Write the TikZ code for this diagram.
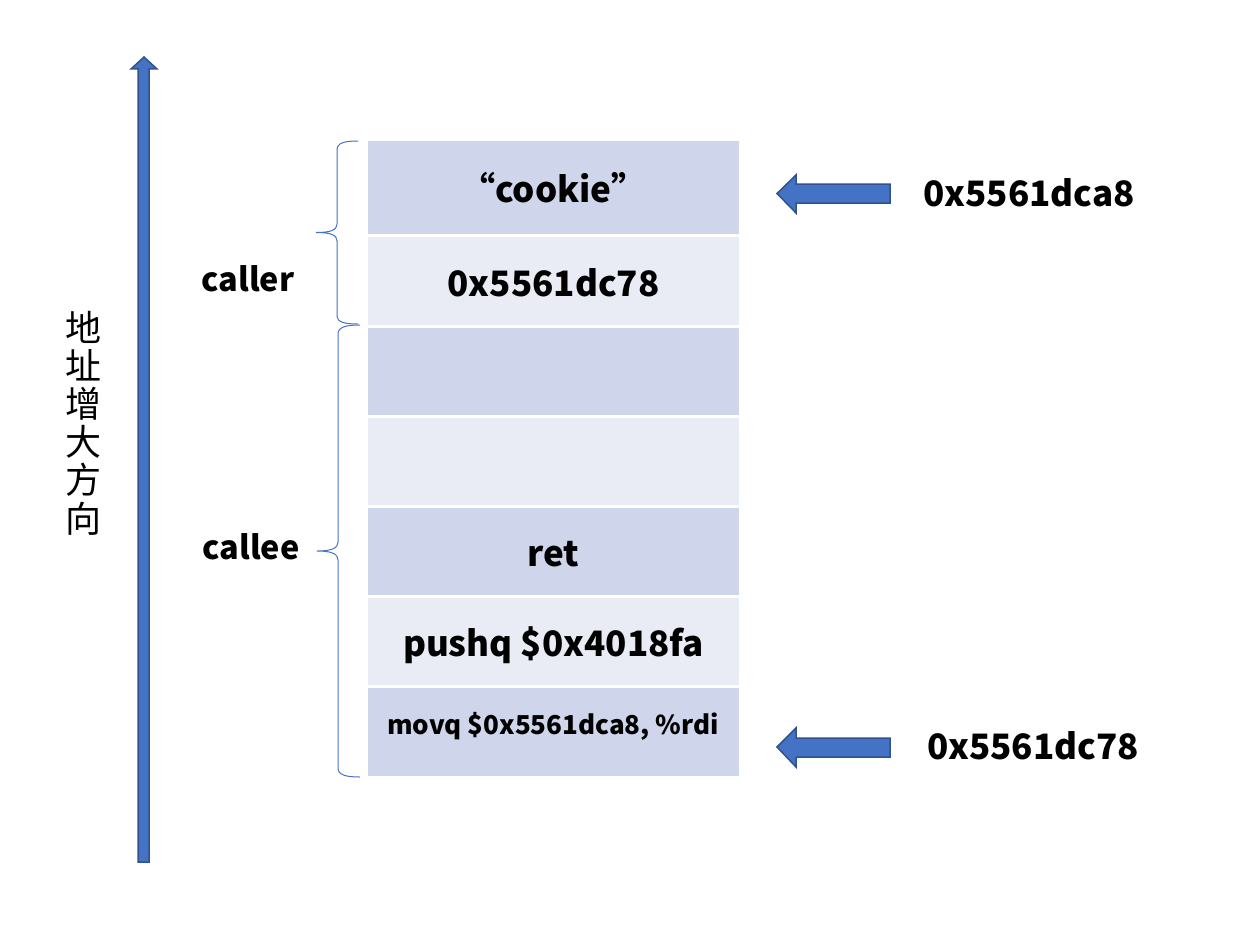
\documentclass[tikz,border=0pt]{standalone}
\usepackage{fontspec}
\setmainfont{Noto Sans CJK SC}
\newfontfamily\cjk{Noto Sans CJK SC}
\definecolor{cdark}{HTML}{CFD5EA}
\definecolor{clight}{HTML}{E9EBF5}
\definecolor{afill}{HTML}{4472C4}
\definecolor{aline}{HTML}{2F528F}
\tikzset{
  cell/.style={rectangle, inner sep=0pt, minimum width=371pt, text height=32pt, text depth=2pt, font=\fontsize{35}{38}\selectfont\bfseries, text=black},
  lbl/.style={inner sep=0pt, anchor=base, font=\fontsize{32.5}{36}\selectfont\bfseries},
  addr/.style={inner sep=0pt, anchor=base, font=\fontsize{35}{38}\selectfont\bfseries},
  arr/.style={fill=afill, draw=aline, line width=1.5pt, line join=miter},
  brc/.style={draw=afill, line width=1pt}
}
\begin{document}
\begin{tikzpicture}[x=1pt,y=-1pt]
\useasboundingbox (0,0) rectangle (1246,947);
% cells
\node[cell, fill=cdark, minimum height=93pt] (c1) at (553.5,187.5) {“cookie”};
\node[cell, fill=clight, minimum height=88pt] (c2) at (553.5,281) {0x5561dc78};
\node[cell, fill=cdark, minimum height=87pt] (c3) at (553.5,371.5) {};
\node[cell, fill=clight, minimum height=87pt] (c4) at (553.5,461.5) {};
\node[cell, fill=cdark, minimum height=87pt] (c5) at (553.5,551.5) {ret};
\node[cell, fill=clight, minimum height=87pt] (c6) at (553.5,641.5) {pushq \$0x4018fa};
\node[cell, fill=cdark, minimum height=88pt] (c7) at (553.5,732) {};
\node[inner sep=0pt, anchor=base, font=\fontsize{26}{30}\selectfont\bfseries] (t7) at (553,734) {movq \$0x5561dca8, \%rdi};
% big arrow
\filldraw[arr] (138,862) -- (138,69) -- (131,69) -- (144,57) -- (157,69) -- (149,69) -- (149,862) -- cycle;
\node[inner sep=0pt, align=center, font=\cjk\fontsize{36}{38.2}\selectfont] (dir) at (83,423) {地\\址\\增\\大\\方\\向};
% braces
\draw[brc] (358,141) .. controls (344,141) and (337,143) .. (337,150) -- (337,224)
  .. controls (337,230) and (331,232.5) .. (316,232.5)
  .. controls (331,232.5) and (337,235) .. (337,241) -- (337,316)
  .. controls (337,322) and (344,324) .. (358,324);
\draw[brc] (360,325) .. controls (346,325) and (338,327) .. (338,334) -- (338,542)
  .. controls (338,548) and (332,551) .. (317,551)
  .. controls (332,551) and (338,554) .. (338,560) -- (338,768)
  .. controls (338,775) and (346,777) .. (360,777);
\node[lbl] (caller) at (248,291) {caller};
\node[lbl] (callee) at (251,559) {callee};
% small arrows
\filldraw[arr] (890,184) -- (796,184) -- (796,175) -- (777,193.5) -- (796,213) -- (796,203) -- (890,203) -- cycle;
\filldraw[arr] (890,738) -- (796,738) -- (796,728) -- (777,747) -- (796,767) -- (796,757) -- (890,757) -- cycle;
\node[addr] (a1) at (1029,206) {0x5561dca8};
\node[addr] (a2) at (1033,759) {0x5561dc78};
\end{tikzpicture}
\end{document}
